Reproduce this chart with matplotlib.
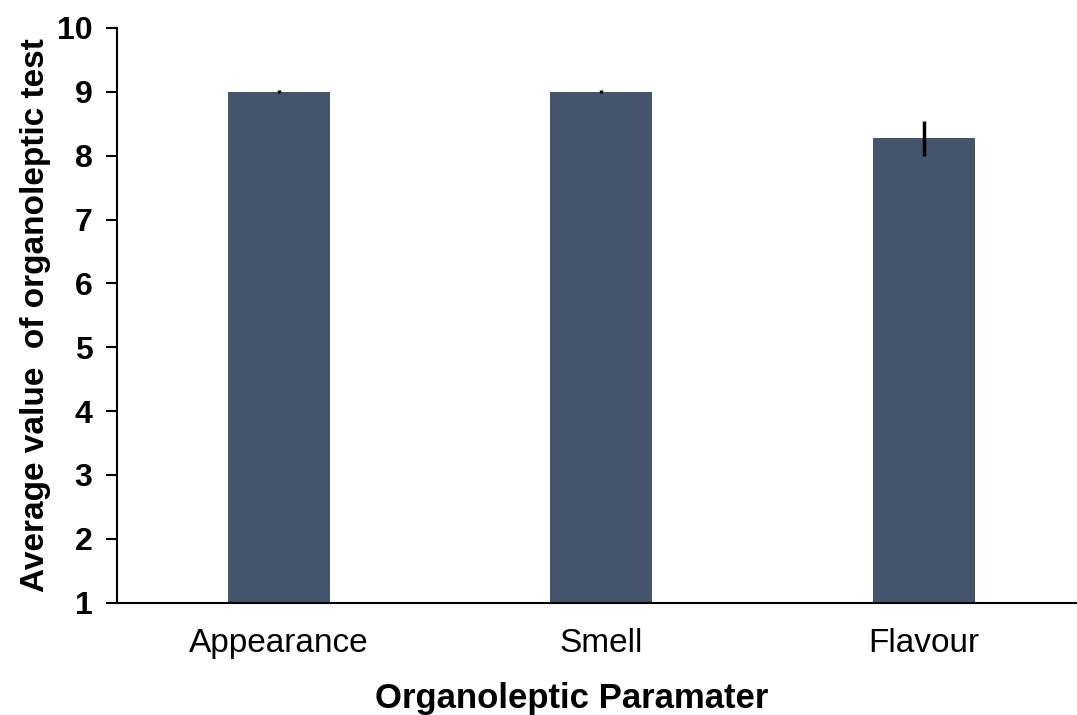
import matplotlib.pyplot as plt

categories = ['Appearance', 'Smell', 'Flavour']
means = [9.0, 9.0, 8.27]
errors = [0.02, 0.02, 0.28]

plt.rcParams['font.family'] = ['Liberation Sans', 'DejaVu Sans']

fig = plt.figure(figsize=(10.77, 7.15), dpi=100)
ax = fig.add_axes([0.109, 0.157, 0.891, 0.804])

x = range(len(categories))
ax.bar(x, [m - 1 for m in means], bottom=1, width=0.316, color='#44546a',
       yerr=errors, error_kw=dict(ecolor='black', elinewidth=2.5, capsize=0))

ax.set_xlim(-0.5, 2.475)
ax.set_ylim(1, 10)
ax.set_yticks(range(1, 11))
ax.set_xticks(list(x))
ax.set_xticklabels(categories, fontsize=24)
for lbl in ax.get_yticklabels():
    lbl.set_fontweight('bold')
    lbl.set_fontsize(23)
ax.tick_params(axis='x', length=0, pad=18)
ax.tick_params(axis='y', length=8, width=1.5, pad=10)

ax.spines['top'].set_visible(False)
ax.spines['right'].set_visible(False)
ax.spines['left'].set_linewidth(1.5)
ax.spines['bottom'].set_linewidth(1.5)

ax.set_xlabel('Organoleptic Paramater', fontsize=25, fontweight='bold')
ax.xaxis.set_label_coords(0.473, -0.138)
ax.set_ylabel('Average value  of organoleptic test', fontsize=24, fontweight='bold', labelpad=4)

fig.savefig('out.png', dpi=100)
